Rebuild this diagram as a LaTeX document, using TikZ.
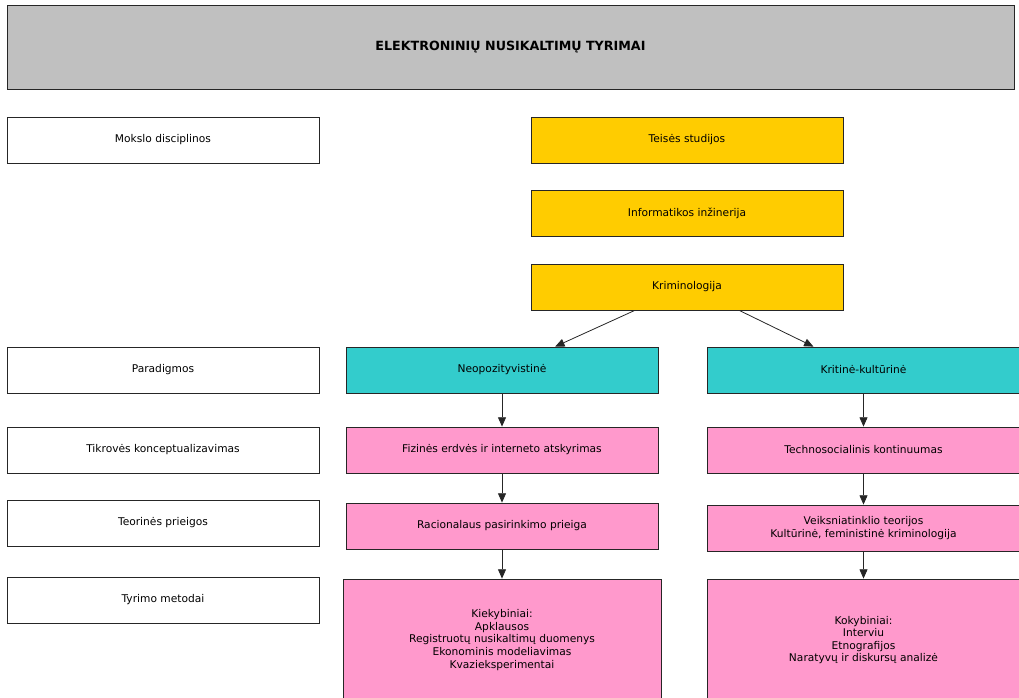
\documentclass[tikz,border=0pt]{standalone}
\usepackage{fontspec}
\setmainfont{DejaVu Sans}
\usepackage{tikz}
\usetikzlibrary{shapes,calc,arrows.meta}

\begin{document}
\begin{tikzpicture}[x=0.75pt,y=-0.75pt]
			\tikzstyle{box}=[rectangle,draw=black!85,line width=0.6pt,inner sep=2pt,align=center,
				minimum width=234pt,minimum height=34.5pt,font=\fontsize{8}{9.4}\selectfont]
			\tikzstyle{sidebox}=[box,fill=white]
			\tikzstyle{discbox}=[box,fill={rgb,255:red,255;green,204;blue,0}]
			\tikzstyle{parabox}=[box,fill={rgb,255:red,51;green,204;blue,204}]
			\tikzstyle{stepbox}=[box,fill={rgb,255:red,255;green,153;blue,204}]
			\tikzstyle{link}=[draw=black!85,line width=0.6pt,-{Triangle[length=7pt,width=6pt]}]
			\useasboundingbox (0,0) rectangle (1019,697);
			\node[box,fill={rgb,255:red,192;green,192;blue,192},minimum width=755.25pt,minimum height=63pt,
				font=\fontsize{9.5}{11}\selectfont\bfseries] (title) at (510.5,47) {ELEKTRONINIŲ NUSIKALTIMŲ TYRIMAI};
			% kaire
			\node[sidebox] (mokslo) at (163,140) {Mokslo disciplinos};
			\node[sidebox] (paradigmos) at (163,370) {Paradigmos};
			\node[sidebox] (tikroves) at (163,450) {Tikrovės konceptualizavimas};
			\node[sidebox] (teorines) at (163,523) {Teorinės prieigos};
			\node[sidebox] (metodai) at (163,600) {Tyrimo metodai};
			% disciplinos
			\node[discbox] (teises) at (687,140) {Teisės studijos};
			\node[discbox] (informatika) at (687,213) {Informatikos inžinerija};
			\node[discbox] (krim) at (687,287) {Kriminologija};
			% paradigmos
			\node[parabox] (neopoz) at (502,370) {Neopozityvistinė};
			\node[parabox] (kritine) at (863.5,370) {Kritinė-kultūrinė};
			\node[stepbox] (fizines) at (502,450) {Fizinės erdvės ir interneto atskyrimas};
			\node[stepbox] (techno) at (863.5,450) {Technosocialinis kontinuumas};
			\node[stepbox] (racionalaus) at (502,526) {Racionalaus pasirinkimo prieiga};
			\node[stepbox] (veiksnia) at (863.5,528) {Veiksniatinklio teorijos\\Kultūrinė, feministinė kriminologija};
			\node[stepbox,minimum width=238.5pt,minimum height=91.5pt] (kiekybiniai) at (502,640)
				{Kiekybiniai:\\Apklausos\\Registruotų nusikaltimų duomenys\\Ekonominis modeliavimas\\Kvazieksperimentai};
			\node[stepbox,minimum height=91.5pt] (kokybiniai) at (863.5,640)
				{Kokybiniai:\\Interviu\\Etnografijos\\Naratyvų ir diskursų analizė};
			% rodykles
			\draw[link] ($(krim.south west)!0.333!(krim.south east)$) -- ($(neopoz.north west)!0.67!(neopoz.north east)$);
			\draw[link] ($(krim.south west)!0.667!(krim.south east)$) -- ($(kritine.north west)!0.34!(kritine.north east)$);
			\draw[link] (neopoz) -- (fizines);
			\draw[link] (fizines) -- (racionalaus);
			\draw[link] (racionalaus) -- (kiekybiniai);
			\draw[link] (kritine) -- (techno);
			\draw[link] (techno) -- (veiksnia);
			\draw[link] (veiksnia) -- (kokybiniai);
		\end{tikzpicture}
\end{document}
